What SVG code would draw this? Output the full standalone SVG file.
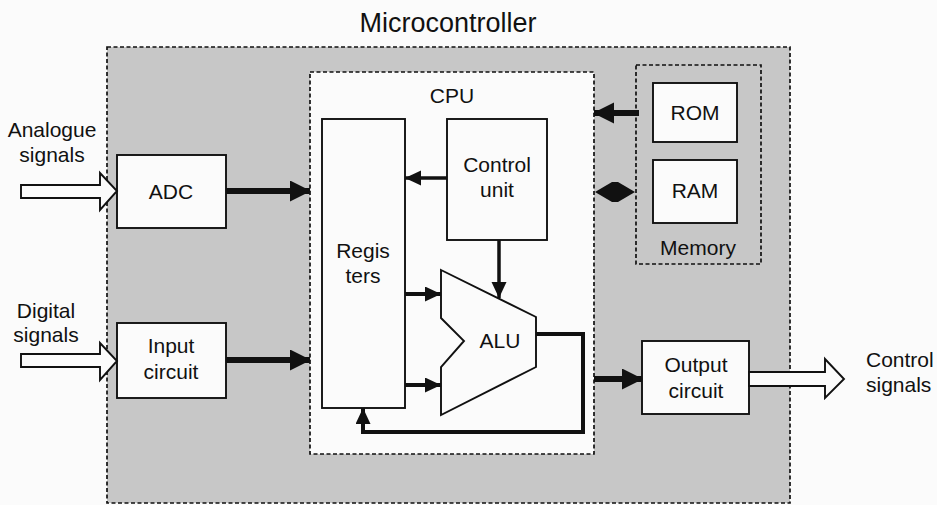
<svg xmlns="http://www.w3.org/2000/svg" width="937" height="505" viewBox="0 0 937 505">
<style>
text{font-family:"Liberation Sans",Arial,sans-serif;fill:#111;text-anchor:middle}
.t{font-size:21px}
.dash{fill:none;stroke:#111;stroke-width:1.7;stroke-dasharray:4 2.5}
.box{fill:#fbfbfb;stroke:#111;stroke-width:1.9}
.thick{fill:none;stroke:#111;stroke-width:6}
.mid{fill:none;stroke:#111;stroke-width:4}
.thin{fill:none;stroke:#111;stroke-width:3.5}
.hollow{fill:#fbfbfb;stroke:#111;stroke-width:1.9;stroke-linejoin:miter}
</style>
<defs>
<marker id="big" markerUnits="userSpaceOnUse" markerWidth="22" markerHeight="22" refX="20" refY="10.5" orient="auto"><path d="M0,0 L21,10.5 L0,21 Z" fill="#111"/></marker>
<marker id="small" markerUnits="userSpaceOnUse" markerWidth="18" markerHeight="16" refX="16" refY="7.5" orient="auto"><path d="M0,0 L16,7.5 L0,15 Z" fill="#111"/></marker>
</defs>
<rect width="937" height="505" fill="#fbfbfb"/>
<text x="448" y="32" style="font-size:27px">Microcontroller</text>
<g id="microcontroller">
<rect x="107" y="47" width="683" height="456" fill="#c7c7c7"/>
<rect x="107" y="47" width="683" height="456" class="dash"/>
</g>
<g id="cpu">
<rect x="310" y="72" width="284" height="382" fill="#fbfbfb"/>
<rect x="310" y="72" width="284" height="382" class="dash"/>
<text x="452" y="103" class="t">CPU</text>
</g>
<g id="memory">
<rect x="636" y="65" width="125" height="199" class="dash"/>
<text x="698" y="255" class="t">Memory</text>
</g>
<g id="rom"><rect x="653" y="83" width="84" height="59" class="box"/><text x="695" y="120" class="t">ROM</text></g>
<g id="ram"><rect x="653" y="160" width="84" height="63" class="box"/><text x="695" y="198" class="t">RAM</text></g>
<g id="registers"><rect x="322" y="119" width="83" height="289" class="box"/><text x="363" y="258" class="t">Regis</text><text x="363" y="283" class="t">ters</text></g>
<g id="control-unit"><rect x="447" y="119" width="100" height="121" class="box"/><text x="497" y="172" class="t">Control</text><text x="497" y="197" class="t">unit</text></g>
<g id="alu"><path d="M441,270 L536,317 L536,367 L441,415 L441,367 L464,341 L441,318 Z" class="box"/><text x="500" y="348" class="t">ALU</text></g>
<g id="adc"><rect x="117" y="155" width="109" height="73" class="box"/><text x="171" y="199" class="t">ADC</text></g>
<g id="input-circuit"><rect x="117" y="323" width="109" height="75" class="box"/><text x="171" y="353" class="t">Input</text><text x="171" y="379" class="t">circuit</text></g>
<g id="output-circuit"><rect x="642" y="341" width="107" height="73" class="box"/><text x="696" y="372" class="t">Output</text><text x="696" y="398" class="t">circuit</text></g>
<g id="labels">
<text x="52" y="137" class="t">Analogue</text><text x="52" y="162" class="t">signals</text>
<text x="46" y="318" class="t">Digital</text><text x="46" y="342" class="t">signals</text>
<text x="866" y="367" class="t" style="text-anchor:start">Control</text><text x="866" y="392" class="t" style="text-anchor:start">signals</text>
</g>
<g id="connectors">
<path d="M21,185 L100,185 L100,173 L117,191 L100,210 L100,198 L21,198 Z" class="hollow"/>
<path d="M21,354 L100,354 L100,343 L117,361 L100,380 L100,367 L21,367 Z" class="hollow"/>
<path d="M749,372 L825,372 L825,359 L844,379 L825,398 L825,386 L749,386 Z" class="hollow"/>
<line x1="226" y1="191" x2="310" y2="191" class="thick" marker-end="url(#big)"/>
<line x1="226" y1="360" x2="310" y2="360" class="thick" marker-end="url(#big)"/>
<line x1="639" y1="113" x2="594" y2="113" class="thick" marker-end="url(#big)"/>
<path d="M595,192 L612,182 L618,182 L635,192 L618,202 L612,202 Z" fill="#111"/>
<line x1="447" y1="178" x2="405" y2="178" class="thin" marker-end="url(#small)"/>
<line x1="499" y1="240" x2="499" y2="298" class="thin" marker-end="url(#small)"/>
<line x1="405" y1="294" x2="441" y2="294" class="mid" marker-end="url(#small)"/>
<line x1="405" y1="385" x2="441" y2="385" class="mid" marker-end="url(#small)"/>
<path d="M536,334 L583,334 L583,432 L363,432 L363,408" class="mid" marker-end="url(#small)"/>
<line x1="594" y1="379" x2="642" y2="379" class="thick" marker-end="url(#big)"/>
</g>
</svg>
